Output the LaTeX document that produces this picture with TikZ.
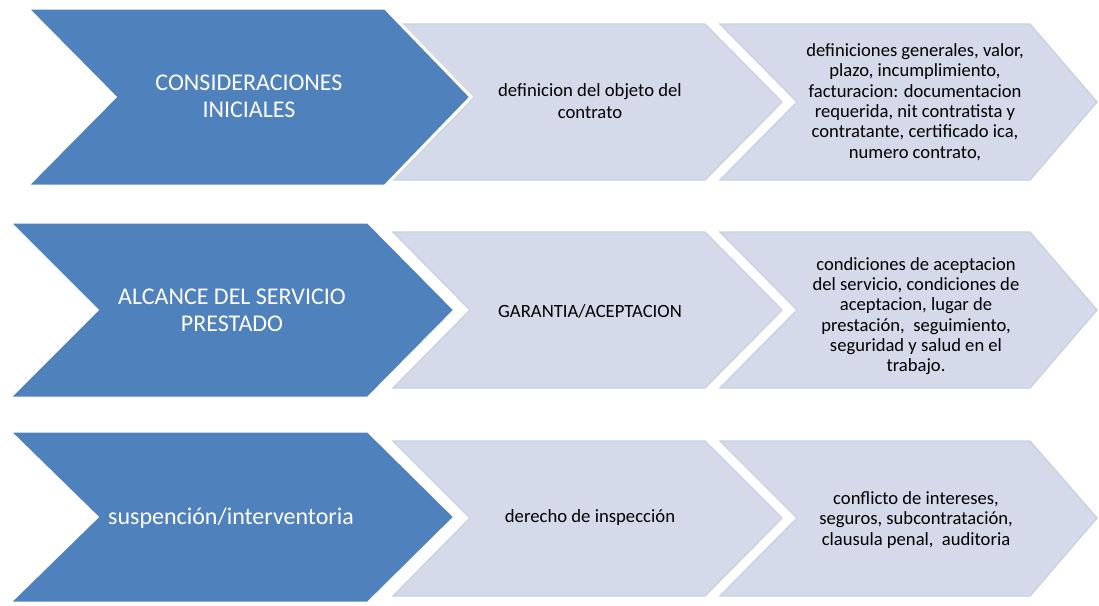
\documentclass[tikz,border=0pt]{standalone}
\usepackage{fontspec}
\setmainfont{Carlito}
\definecolor{blueA}{RGB}{79,129,189}
\definecolor{lightF}{RGB}{212,218,234}
\definecolor{lightE}{RGB}{200,208,226}
\begin{document}
\begin{tikzpicture}[x=1pt,y=-1pt,
  bluechev/.style={fill=blueA,draw=white,line width=3pt,line join=miter},
  lightchev/.style={fill=lightF,draw=lightE,line width=1.3pt,line join=miter},
  bluetext/.style={text=white,align=center,font=\fontsize{24}{26.7}\selectfont,inner sep=0pt},
  midtext/.style={text=black,align=center,font=\fontsize{18.7}{21.7}\selectfont,inner sep=0pt},
  righttext/.style={text=black,align=center,font=\fontsize{18.6}{20.3}\selectfont,inner sep=0pt}]
\useasboundingbox (0,0) rectangle (1099,605);
\fill[white] (0,0) rectangle (1099,605);
% ---------- row 1 ----------
\draw[lightchev] (720,24) -- (1030,24) -- (1097,102) -- (1030,180) -- (720,180) -- (797,102) -- cycle;
\draw[lightchev] (393,24) -- (705,24) -- (782,102) -- (705,180) -- (393,180) -- (470,102) -- cycle;
\draw[bluechev] (27,8) -- (385,8) -- (471,97) -- (385,186) -- (27,186) -- (115,97) -- cycle;
\node[bluetext] (b1) at (249,96) {CONSIDERACIONES\\INICIALES};
\node[midtext] (m1) at (590,101) {definicion del objeto del\\contrato};
\node[righttext] (r1) at (915,102) {definiciones generales, valor,\\plazo, incumplimiento,\\facturacion: documentacion\\requerida, nit contratista y\\contratante, certificado ica,\\numero contrato,};
% ---------- row 2 ----------
\draw[lightchev] (720,232) -- (1030,232) -- (1097,310) -- (1030,388) -- (720,388) -- (797,310) -- cycle;
\draw[lightchev] (393,232) -- (705,232) -- (782,310) -- (705,388) -- (393,388) -- (470,310) -- cycle;
\draw[bluechev] (9,222) -- (368,222) -- (455,310) -- (368,398) -- (9,398) -- (97,310) -- cycle;
\node[bluetext] (b2) at (232,310) {ALCANCE DEL SERVICIO\\PRESTADO};
\node[midtext] (m2) at (590,311) {GARANTIA/ACEPTACION};
\node[righttext] (r2) at (916,316) {condiciones de aceptacion\\del servicio, condiciones de\\aceptacion, lugar de\\prestación,\ \ seguimiento,\\seguridad y salud en el\\trabajo.};
% ---------- row 3 ----------
\draw[lightchev] (720,441) -- (1030,441) -- (1097,518) -- (1030,596) -- (720,596) -- (797,518) -- cycle;
\draw[lightchev] (393,441) -- (705,441) -- (782,518) -- (705,596) -- (393,596) -- (470,518) -- cycle;
\draw[bluechev] (9,431) -- (368,431) -- (455,517) -- (368,603) -- (9,603) -- (97,517) -- cycle;
\node[bluetext] (b3) at (231,518) {suspención/interventoria};
\node[midtext] (m3) at (590,518) {derecho de inspección};
\node[righttext] (r3) at (916,520) {conflicto de intereses,\\seguros, subcontratación,\\clausula penal,\ \ auditoria};
\end{tikzpicture}
\end{document}
